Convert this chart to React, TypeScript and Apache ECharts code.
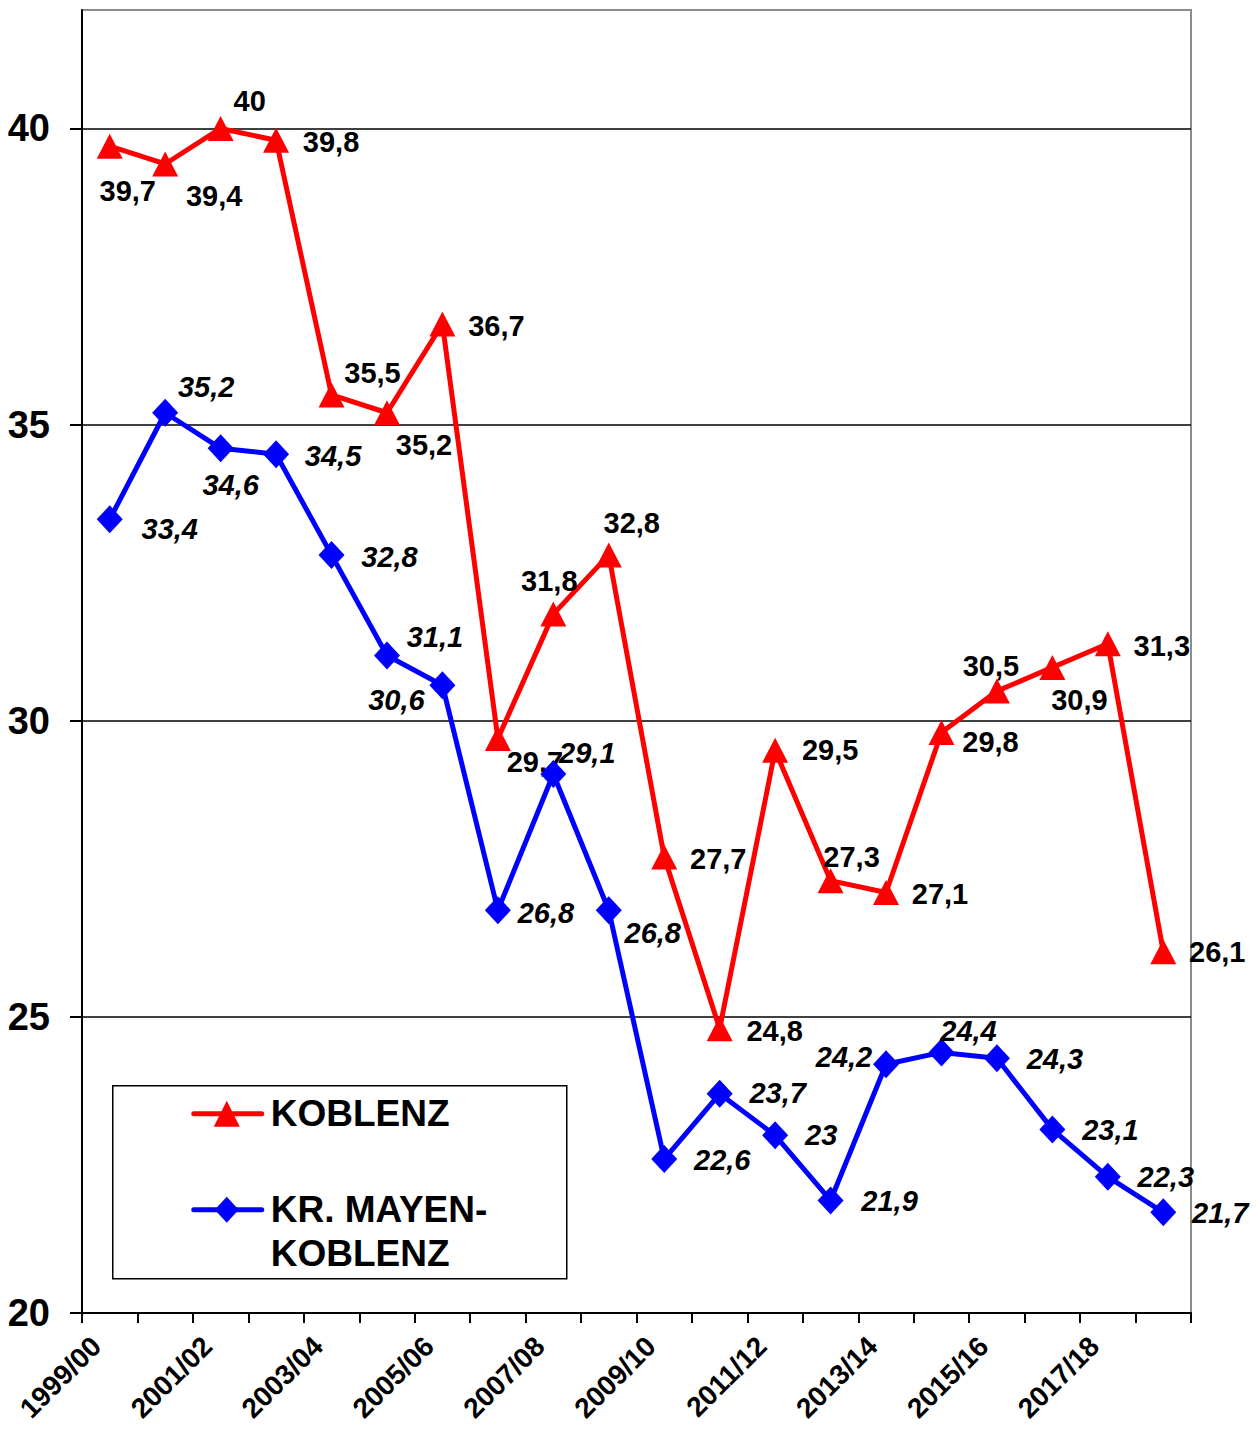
import { useEffect, useRef } from "react";
import * as echarts from "echarts";

// School years on the category axis
const SEASONS = [
  "1999/00", "2000/01", "2001/02", "2002/03", "2003/04",
  "2004/05", "2005/06", "2006/07", "2007/08", "2008/09",
  "2009/10", "2010/11", "2011/12", "2012/13", "2013/14",
  "2014/15", "2015/16", "2016/17", "2017/18", "2018/19",
];

// Values per school year
const KOBLENZ = [
  39.7, 39.4, 40, 39.8, 35.5, 35.2, 36.7, 29.7, 31.8, 32.8,
  27.7, 24.8, 29.5, 27.3, 27.1, 29.8, 30.5, 30.9, 31.3, 26.1,
];
const MAYEN_KOBLENZ = [
  33.4, 35.2, 34.6, 34.5, 32.8, 31.1, 30.6, 26.8, 29.1, 26.8,
  22.6, 23.7, 23, 21.9, 24.2, 24.4, 24.3, 23.1, 22.3, 21.7,
];

// Value axis
const Y_MIN = 20;
const Y_MAX = 42;
const Y_STEP = 5;
const Y_TICKS = [20, 25, 30, 35, 40];

// Where each value label sits relative to its marker (dx, dy in px)
const KOBLENZ_LABEL_OFFSETS: [number, number][] = [
  [18, 45], [49, 32], [29, -27], [55, 2], [41, -22],
  [37, 32], [54, 2], [37, 24], [-4, -33], [23, -32],
  [54, 2], [55, 2], [55, 0], [21, -24], [54, 2],
  [49, 9], [-6, -25], [27, 33], [54, 2], [54, 0],
];
const MAYEN_LABEL_OFFSETS: [number, number][] = [
  [60, 10], [41, -26], [10, 37], [57, 2], [58, 2],
  [48, -19], [-46, 15], [48, 3], [34, -21], [44, 23],
  [58, 1], [58, -1], [46, 0], [59, 1], [-42, -7],
  [27, -21], [58, 1], [58, 1], [58, 0], [57, 1],
];

const FONT = "'Liberation Sans', Arial, Helvetica, sans-serif";
const RED = "#ff0000";
const BLUE = "#0000ff";

const decimalComma = (v: number) => String(v).replace(".", ",");

export default function App() {
  const ref = useRef<HTMLDivElement>(null);

  useEffect(() => {
    document.body.style.margin = "0";
    if (!ref.current) return;
    const chart = echarts.init(ref.current, null, { renderer: "svg" });

    const labelBase = {
      show: true,
      position: "inside" as const,
      align: "center" as const,
      verticalAlign: "middle" as const,
      fontFamily: FONT,
      fontSize: 29,
      fontWeight: "bold" as const,
      color: "#000",
      formatter: (p: any) => decimalComma(p.value),
    };

    const legendFont = `bold 37px ${FONT}`;

    chart.setOption({
      animation: false,
      backgroundColor: "#fff",
      grid: {
        left: 82,
        right: 69,
        top: 10,
        bottom: 116,
        outerBoundsMode: "none",
        containLabel: false,
        show: true,
        borderColor: "#8c8c8c",
        borderWidth: 2,
        backgroundColor: "transparent",
      },
      xAxis: {
        type: "category",
        data: SEASONS,
        boundaryGap: true,
        axisLine: { lineStyle: { color: "#000", width: 2 } },
        axisTick: {
          show: true,
          interval: 0,
          length: 10,
          lineStyle: { color: "#000", width: 2 },
        },
        axisLabel: {
          interval: 1,
          rotate: 45,
          margin: 15,
          padding: [0, 19, 0, 0],
          fontFamily: FONT,
          fontSize: 28,
          fontWeight: "bold",
          color: "#000",
        },
        splitLine: { show: false },
      },
      yAxis: {
        type: "value",
        min: Y_MIN,
        max: Y_MAX,
        interval: Y_STEP,
        axisLine: { show: true, lineStyle: { color: "#000", width: 2 } },
        axisTick: {
          show: true,
          length: 12,
          customValues: Y_TICKS,
          lineStyle: { color: "#000", width: 2 },
        },
        axisLabel: {
          margin: 32,
          customValues: Y_TICKS,
          fontFamily: FONT,
          fontSize: 38,
          fontWeight: "bold",
          color: "#000",
        },
        splitLine: {
          show: true,
          showMinLine: false,
          lineStyle: { color: "#000", width: 1.5 },
        },
      },
      series: [
        {
          name: "KOBLENZ",
          type: "line",
          data: KOBLENZ.map((v, i) => ({
            value: v,
            label: { offset: KOBLENZ_LABEL_OFFSETS[i] },
          })),
          symbol: "triangle",
          symbolSize: [26, 25],
          lineStyle: { color: RED, width: 5 },
          itemStyle: { color: RED },
          label: { ...labelBase },
          z: 2,
        },
        {
          name: "KR. MAYEN-KOBLENZ",
          type: "line",
          data: MAYEN_KOBLENZ.map((v, i) => ({
            value: v,
            label: { offset: MAYEN_LABEL_OFFSETS[i] },
          })),
          symbol: "diamond",
          symbolSize: [26, 28],
          lineStyle: { color: BLUE, width: 5 },
          itemStyle: { color: BLUE },
          label: { ...labelBase, fontStyle: "italic" },
          z: 3,
        },
      ],
      graphic: [
        {
          type: "group",
          left: 112,
          top: 1085,
          z: 10,
          children: [
            {
              type: "rect",
              shape: { x: 0, y: 0, width: 454, height: 193 },
              style: { fill: "#fff", stroke: "#000", lineWidth: 1.5 },
            },
            {
              type: "line",
              shape: { x1: 81, y1: 28, x2: 149, y2: 28 },
              style: { stroke: RED, lineWidth: 5, lineCap: "round" },
            },
            {
              type: "polygon",
              shape: { points: [[114, 15], [127, 41], [101, 41]] },
              style: { fill: RED },
            },
            {
              type: "text",
              x: 158,
              y: 28,
              style: {
                text: "KOBLENZ",
                font: legendFont,
                fill: "#000",
                verticalAlign: "middle",
              },
            },
            {
              type: "line",
              shape: { x1: 81, y1: 124, x2: 149, y2: 124 },
              style: { stroke: BLUE, lineWidth: 5, lineCap: "round" },
            },
            {
              type: "polygon",
              shape: { points: [[114, 111], [126, 124], [114, 137], [102, 124]] },
              style: { fill: BLUE },
            },
            {
              type: "text",
              x: 158,
              y: 124,
              style: {
                text: "KR. MAYEN-",
                font: legendFont,
                fill: "#000",
                verticalAlign: "middle",
              },
            },
            {
              type: "text",
              x: 158,
              y: 168,
              style: {
                text: "KOBLENZ",
                font: legendFont,
                fill: "#000",
                verticalAlign: "middle",
              },
            },
          ],
        },
      ],
    });

    return () => chart.dispose();
  }, []);

  return <div ref={ref} style={{ width: 1260, height: 1429 }} />;
}
